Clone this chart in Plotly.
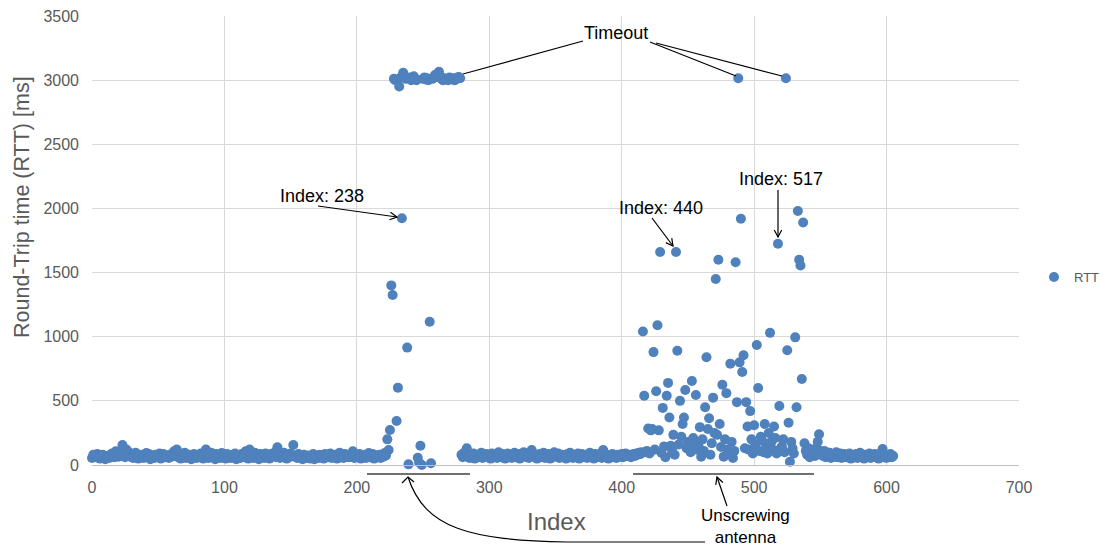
import math
import plotly.graph_objects as go

# ---------------- data ----------------
# RTT values in ms, one per packet index, in index order
rtt_000_222 = [
    55, 80, 70, 60, 85, 65, 50, 75, 80, 60, 45, 70, 65, 55, 80, 90, 70, 60, 107, 85,
    65, 95, 70, 156, 90, 60, 120, 75, 100, 65, 85, 55, 70, 95, 60, 50, 75, 65, 80, 55,
    70, 94, 60, 85, 45, 65, 75, 55, 80, 60, 70, 90, 50, 65, 85, 70, 60, 75, 55, 80,
    65, 90, 107, 70, 120, 60, 85, 50, 75, 65, 95, 55, 70, 80, 60, 45, 75, 85, 65, 55,
    70, 60, 90, 75, 50, 65, 120, 80, 55, 70, 95, 60, 75, 45, 85, 65, 70, 55, 94, 60,
    75, 50, 85, 65, 70, 55, 80, 60, 90, 45, 75, 65, 55, 85, 70, 60, 107, 75, 50, 120,
    65, 80, 55, 95, 70, 60, 45, 85, 65, 75, 55, 90, 60, 70, 50, 85, 65, 75, 100, 60,
    138, 70, 55, 85, 65, 95, 75, 50, 80, 60, 90, 70, 156, 65, 75, 55, 85, 60, 70, 45,
    80, 65, 55, 75, 60, 50, 70, 85, 45, 65, 75, 55, 80, 60, 70, 50, 85, 65, 75, 60,
    90, 55, 70, 65, 80, 50, 75, 95, 60, 70, 55, 85, 65, 75, 60, 80, 70, 107, 55, 65,
    75, 60, 85, 50, 70, 65, 80, 55, 75, 94, 60, 70, 85, 50, 65, 75, 60, 80, 55, 70, 65, 94, 75,
]
rtt_223_278 = [
    200, 117, 273, 1400, 1325, 3010, 3000, 343, 603, 2950,
    3020, 1923, 3058, 3030, 3010, 915, 5, 3020, 3000, 3015,
    3030, 3010, 3000, 57, 20, 150, 0, 3010, 3020, 3005,
    3015, 3000, 1117, 13, 3010, 3020, 3040, 3025, 3050, 3066,
    3030, 3010, 3000, 3015, 3005, 3010, 3000, 3020, 3010, 3005,
    3015, 3000, 3010, 3020, 3025, 3015,
]
rtt_279_404 = [
    80, 60, 95, 70, 130, 85, 55, 75, 65, 90, 50, 70, 80, 60, 75, 95, 55, 70, 65, 85,
    60, 75, 50, 90, 70, 65, 80, 55, 100, 70, 60, 85, 75, 50, 65, 90, 70, 80, 55, 75,
    95, 60, 70, 85, 50, 75, 65, 100, 80, 60, 70, 55, 90, 117, 75, 65, 80, 50, 70, 85,
    60, 75, 95, 55, 70, 65, 85, 50, 80, 60, 100, 75, 65, 90, 55, 70, 80, 60, 75, 50,
    85, 65, 95, 70, 55, 80, 60, 75, 90, 50, 70, 85, 65, 60, 80, 55, 75, 95, 65, 70,
    50, 85, 60, 75, 65, 90, 55, 117, 70, 60, 80, 50, 75, 65, 85, 60, 70, 55, 80, 75,
    65, 85, 60, 75, 90, 70,
]
rtt_405_549 = [
    70, 80, 60, 75, 85, 70, 90, 80, 95, 85, 100, 1040, 540, 100, 110, 285, 90, 270, 280, 880,
    120, 575, 1090, 270, 1660, 95, 445, 145, 60, 540, 640, 370, 150, 110, 235, 80, 1660, 890, 160, 500,
    220, 320, 370, 585, 130, 180, 145, 100, 655, 210, 170, 545, 120, 150, 295, 65, 200, 110, 450, 840,
    280, 365, 80, 170, 525, 250, 1450, 235, 1600, 320, 140, 625, 65, 200, 560, 120, 90, 790, 180, 55,
    110, 1580, 490, 3015, 800, 1920, 725, 855, 130, 490, 300, 120, 420, 200, 90, 310, 160, 935, 600, 110,
    220, 190, 100, 320, 140, 90, 250, 1030, 180, 120, 300, 210, 90, 1725, 460, 130, 145, 200, 100, 3015,
    895, 330, 25, 180, 130, 90, 995, 450, 1980, 1600, 1555, 670, 1890, 170, 110, 80, 130, 60, 120, 90,
    100, 70, 130, 180, 240,
]
rtt_550_605 = [
    110, 90, 70, 110, 60, 85, 75, 95, 55, 70, 80, 65, 100, 60, 75, 90, 55, 70, 85, 60,
    75, 65, 90, 50, 80, 70, 60, 85, 55, 75, 95, 65, 70, 50, 80, 60, 75, 90, 55, 70,
    65, 85, 60, 75, 50, 90, 70, 125, 60, 80, 55, 75, 65, 85, 60, 70,
]
rtt = rtt_000_222 + rtt_223_278 + rtt_279_404 + rtt_405_549 + rtt_550_605
index = list(range(len(rtt)))

series_name = "RTT"
x_ticks = [0, 100, 200, 300, 400, 500, 600, 700]
y_ticks = [0, 500, 1000, 1500, 2000, 2500, 3000, 3500]
x_title = "Index"
y_title = "Round-Trip time (RTT) [ms]"

# ---------------- layout helpers (pixel -> paper) ----------------
W, H = 1106, 546
L, R, T, B = 92, 1019, 16, 465


def px(x):
    return (x - L) / (R - L)


def py(y):
    return (B - y) / (B - T)


def seg_path(points):
    return "M " + " L ".join(f"{px(x):.5f},{py(y):.5f}" for x, y in points)


def arrow_shapes(x0, y0, x1, y1, head=True, hl=8, ang=28):
    shapes = [dict(type="path", xref="paper", yref="paper",
                   path=seg_path([(x0, y0), (x1, y1)]),
                   line=dict(color="#000000", width=1.2), layer="above")]
    if head:
        dx, dy = x1 - x0, y1 - y0
        d = math.hypot(dx, dy)
        ux, uy = dx / d, dy / d
        a = math.radians(ang)
        pts = []
        for s in (1, -1):
            rx = ux * math.cos(s * a) - uy * math.sin(s * a)
            ry = ux * math.sin(s * a) + uy * math.cos(s * a)
            pts.append((x1 - hl * rx, y1 - hl * ry))
        shapes.append(dict(type="path", xref="paper", yref="paper",
                           path=seg_path([pts[0], (x1, y1), pts[1]]),
                           line=dict(color="#000000", width=1.2), layer="above"))
    return shapes


FONT = "Liberation Sans, Arial, sans-serif"
GREY = "#595959"

fig = go.Figure()
fig.add_trace(go.Scatter(
    x=index, y=rtt, mode="markers", name=series_name,
    marker=dict(color="#4F81BD", size=10, line=dict(width=0)),
    cliponaxis=False,
))

shapes = []
# Timeout connector lines (no heads)
shapes += arrow_shapes(583, 41, 463, 74, head=False)
shapes += arrow_shapes(650, 42, 736, 76, head=False)
shapes += arrow_shapes(656, 43, 782, 76, head=False)
# Index arrows
shapes += arrow_shapes(318, 206, 397, 217)
shapes += arrow_shapes(652, 218, 673, 246)
shapes += arrow_shapes(778, 190, 778, 237)
# Unscrewing antenna: brackets
shapes.append(dict(type="path", xref="paper", yref="paper",
                   path=seg_path([(367, 474), (470, 474)]),
                   line=dict(color="#404040", width=1.6), layer="above"))
shapes.append(dict(type="path", xref="paper", yref="paper",
                   path=seg_path([(633, 474), (814, 474)]),
                   line=dict(color="#404040", width=1.6), layer="above"))
# right straight arrow
shapes += arrow_shapes(727, 506, 717, 477)
# curved arrow
curve = (f"M {px(705):.5f},{py(542):.5f} L {px(567):.5f},{py(542):.5f} "
         f"C {px(470):.5f},{py(540):.5f} {px(425):.5f},{py(529):.5f} {px(408):.5f},{py(477):.5f}")
shapes.append(dict(type="path", xref="paper", yref="paper", path=curve,
                   line=dict(color="#000000", width=1.2), layer="above"))
shapes.append(dict(type="path", xref="paper", yref="paper",
                   path=seg_path([(402, 483), (408, 477), (414, 482)]),
                   line=dict(color="#000000", width=1.2), layer="above"))

ann_font = dict(family=FONT, size=18, color="#000000")


def label(text, x, y, font, **kw):
    return dict(text=text, x=px(x), y=py(y), xref="paper", yref="paper",
                xanchor="center", yanchor="middle", showarrow=False, font=font, **kw)


annotations = [
    label("Timeout", 616, 33, ann_font),
    label("Index: 238", 322, 196, ann_font),
    label("Index: 440", 661, 208, ann_font),
    label("Index: 517", 781, 179, ann_font),
    label("Unscrewing<br>antenna", 745, 526, dict(family=FONT, size=17, color="#000000")),
    label(x_title, 556, 521, dict(family=FONT, size=24, color=GREY)),
    label(y_title, 22, 207, dict(family=FONT, size=21.5, color=GREY), textangle=-90),
]

fig.update_layout(
    width=W, height=H,
    margin=dict(l=L, r=W - R, t=T, b=H - B, pad=0, autoexpand=False),
    paper_bgcolor="white", plot_bgcolor="white",
    font=dict(family=FONT, size=16, color=GREY),
    showlegend=True,
    legend=dict(x=px(1034), y=py(277), xanchor="left", yanchor="middle",
                font=dict(family=FONT, size=13, color=GREY),
                bgcolor="rgba(0,0,0,0)", itemwidth=30),
    shapes=shapes,
    annotations=annotations,
    xaxis=dict(range=[0, 700], tickvals=x_ticks, ticktext=[str(v) for v in x_ticks],
               showgrid=True, gridcolor="#d9d9d9", gridwidth=1, automargin=False,
               zeroline=False, showline=True, linecolor="#bfbfbf", linewidth=1,
               ticks="", ticklabelstandoff=8,
               tickfont=dict(family=FONT, size=16, color=GREY)),
    yaxis=dict(range=[0, 3500], tickvals=y_ticks, ticktext=[str(v) for v in y_ticks],
               showgrid=True, gridcolor="#d9d9d9", gridwidth=1, automargin=False,
               zeroline=False, showline=False,
               ticks="", ticklabelstandoff=12,
               tickfont=dict(family=FONT, size=16, color=GREY)),
)

fig.write_html("out.html")
